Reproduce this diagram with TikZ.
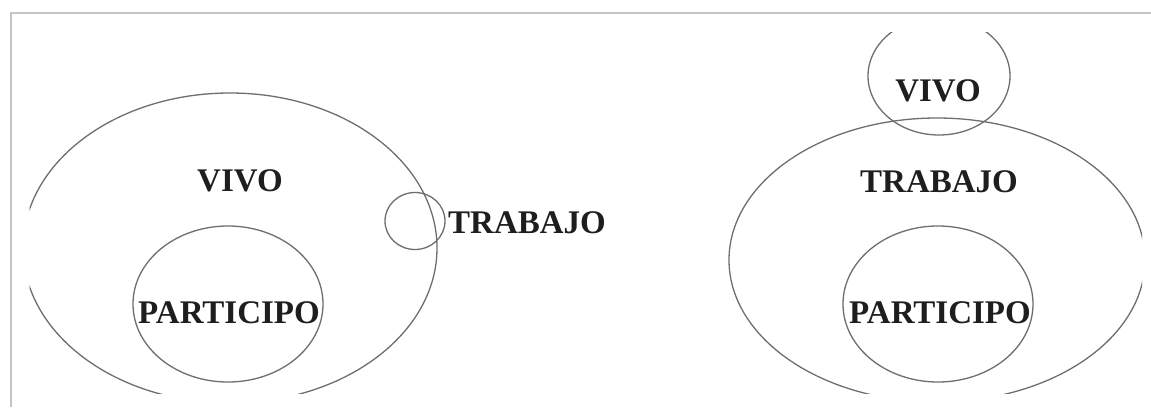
\documentclass[tikz,border=0pt]{standalone}
\usepackage{fontspec}
\setmainfont{Liberation Serif}
\usetikzlibrary{shapes.geometric}
\definecolor{ringgray}{HTML}{6E6E6E}
\definecolor{framegray}{HTML}{C4C4C4}
\definecolor{inkgray}{HTML}{1E1E1E}
\tikzset{
  ring/.style={ellipse, draw=ringgray, line width=1.3pt, inner sep=0pt, fill=none},
  lbl/.style={font=\fontsize{33}{36}\selectfont\bfseries, text=inkgray, anchor=base, inner sep=0pt},
  frameline/.style={draw=framegray, line width=1.5pt}
}
\begin{document}
\begin{tikzpicture}[x=1pt,y=-1pt]
\useasboundingbox (0,0) rectangle (1151,407);
\fill[white] (0,0) rectangle (1151,407);
% frame of the screenshot
\coordinate (ftl) at (11,13);
\coordinate (ftr) at (1151,13);
\coordinate (fbl) at (11,407);
\draw[frameline] (fbl) -- (ftl) -- (ftr);
\begin{scope}
\clip (29.5,32) rectangle (1142,393);
% left diagram
\node[ring, minimum width=414, minimum height=310] (vivoL) at (230,248) {};
\node[ring, minimum width=190, minimum height=156] (partL) at (228,304) {};
\node[ring, minimum width=60, minimum height=57] (trabL) at (415,221) {};
% right diagram
\node[ring, minimum width=142, minimum height=118] (vivoR) at (939,76) {};
\node[ring, minimum width=416, minimum height=284] (trabR) at (937,260) {};
\node[ring, minimum width=190, minimum height=156] (partR) at (938,304) {};
\end{scope}
% labels
\node[lbl] (tVivoL) at (240,191) {VIVO};
\node[lbl] (tPartL) at (229,323) {PARTICIPO};
\node[lbl] (tTrabL) at (527,233) {TRABAJO};
\node[lbl] (tVivoR) at (938,101) {VIVO};
\node[lbl] (tTrabR) at (939,192) {TRABAJO};
\node[lbl] (tPartR) at (940,323) {PARTICIPO};
\end{tikzpicture}
\end{document}
